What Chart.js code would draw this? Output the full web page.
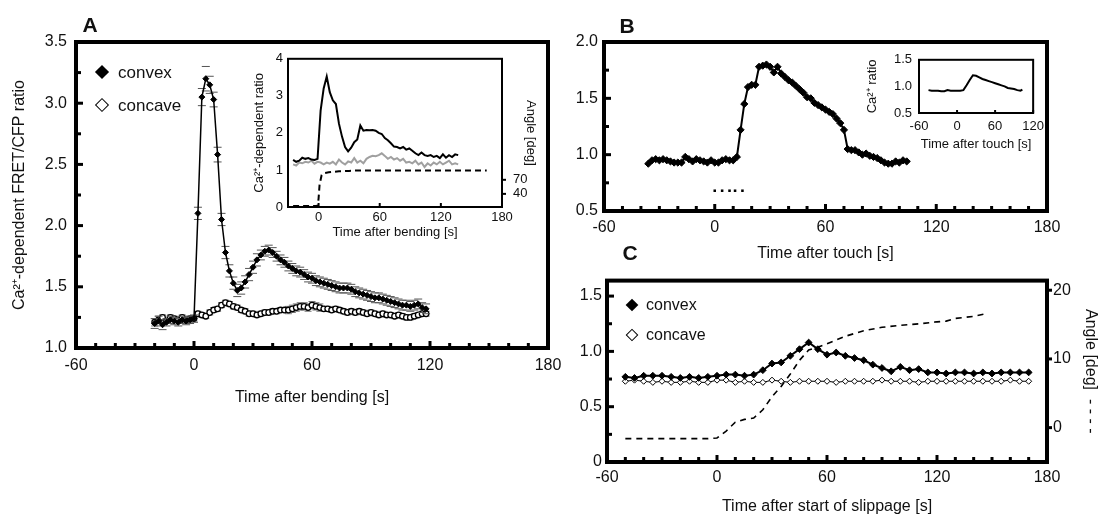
<!DOCTYPE html>
<html lang="en">
<head>
<meta charset="UTF-8">
<title>Ca2+ FRET ratio - bending, touch, slippage</title>
<style>
    body { margin: 0; background: #fff; }
    #wrap { position: relative; width: 1102px; height: 516px; background: #fff; overflow: hidden; font-family: 'Liberation Sans', Arial, sans-serif; color: #111; }
    canvas { position: absolute; }
    .dia { position: absolute; box-sizing: border-box; background: #000; transform: translate(-50%, -50%) rotate(45deg); }
    .dia.open { background: #fff; border: 1.6px solid #000; }
    .lab { position: absolute; line-height: 1; transform: translateY(-50%); white-space: nowrap; }
    .letter { position: absolute; font-weight: bold; font-size: 21px; line-height: 1; transform: translate(-50%, -50%); }
</style>
</head>
<body>
<div id="wrap">
    <canvas id="chartA" width="580" height="420" style="left:0;top:0"></canvas>
    <canvas id="chartAi" width="310" height="205" style="left:240px;top:40px"></canvas>
    <canvas id="chartB" width="542" height="270" style="left:560px;top:0"></canvas>
    <canvas id="chartBi" width="190" height="110" style="left:860px;top:45px"></canvas>
    <canvas id="chartC" width="542" height="251" style="left:560px;top:265px"></canvas>

    <div class="letter" style="left:90px;top:24px">A</div>
    <div class="letter" style="left:627px;top:25px">B</div>
    <div class="letter" style="left:630px;top:252px">C</div>

    <!-- legends -->
    <div class="dia" style="left:102px;top:72px;width:10px;height:10px"></div>
    <div class="lab" style="left:118px;top:72px;font-size:17px">convex</div>
    <div class="dia open" style="left:102px;top:105px;width:10px;height:10px"></div>
    <div class="lab" style="left:118px;top:105px;font-size:17px">concave</div>

    <div class="dia" style="left:632px;top:305px;width:9px;height:9px"></div>
    <div class="lab" style="left:646px;top:305px;font-size:16px">convex</div>
    <div class="dia open" style="left:632px;top:335px;width:9px;height:9px"></div>
    <div class="lab" style="left:646px;top:335px;font-size:16px">concave</div>
</div>

<script src="https://cdn.jsdelivr.net/npm/chart.js"></script>
<script type="text/javascript">
        // ---- A: bending, main plot ----
        const tA = [-20,-18,-16,-14,-12,-10,-8,-6,-4,-2,0,2,4,6,8,10,12,14,16,18,20,22,24,26,28,30,32,34,36,38,
                    40,42,44,46,48,50,52,54,56,58,60,62,64,66,68,70,72,74,76,78,80,82,84,86,88,90,92,94,96,98,
                    100,102,104,106,108,110,112,114,116,118];
        const convexA = [1.20,1.22,1.19,1.21,1.23,1.22,1.21,1.23,1.22,1.23,
                         1.24,2.10,3.05,3.20,3.15,3.03,2.58,2.05,1.78,1.63,
                         1.53,1.47,1.49,1.54,1.60,1.66,1.72,1.76,1.79,1.80,
                         1.78,1.75,1.72,1.70,1.67,1.65,1.63,1.62,1.60,1.58,
                         1.57,1.55,1.54,1.53,1.52,1.51,1.50,1.49,1.49,1.49,
                         1.48,1.46,1.45,1.44,1.43,1.42,1.41,1.41,1.40,1.39,
                         1.38,1.37,1.36,1.35,1.35,1.34,1.35,1.36,1.33,1.32];
        const convexErrA = [0.04,0.04,0.04,0.03,0.03,0.03,0.03,0.03,0.03,0.03,
                            0.03,0.05,0.07,0.10,0.07,0.06,0.06,0.05,0.05,0.05,
                            0.05,0.05,0.05,0.05,0.05,0.05,0.05,0.04,0.04,0.04,
                            0.04,0.04,0.04,0.04,0.04,0.04,0.04,0.04,0.04,0.04,
                            0.04,0.04,0.04,0.04,0.04,0.04,0.04,0.04,0.04,0.04,
                            0.04,0.04,0.04,0.04,0.04,0.04,0.04,0.04,0.04,0.04,
                            0.04,0.04,0.04,0.04,0.04,0.04,0.04,0.04,0.04,0.04];
        const concaveA = [1.21,1.23,1.25,1.22,1.25,1.24,1.23,1.25,1.23,1.24,
                          1.24,1.28,1.27,1.26,1.29,1.31,1.32,1.35,1.37,1.36,
                          1.34,1.33,1.31,1.30,1.28,1.28,1.27,1.28,1.29,1.29,
                          1.30,1.30,1.31,1.31,1.31,1.32,1.33,1.34,1.34,1.33,
                          1.35,1.34,1.33,1.32,1.32,1.31,1.32,1.31,1.30,1.29,
                          1.30,1.29,1.30,1.29,1.28,1.29,1.28,1.27,1.28,1.27,
                          1.27,1.26,1.27,1.26,1.25,1.25,1.26,1.27,1.28,1.28];
        const concaveErrA = [0.03,0.03,0.02,0.02,0.02,0.02,0.02,0.02,0.02,0.02,
                             0.02,0.02,0.02,0.02,0.02,0.02,0.02,0.02,0.02,0.02,
                             0.02,0.02,0.02,0.02,0.02,0.02,0.02,0.02,0.02,0.02,
                             0.02,0.02,0.02,0.02,0.03,0.03,0.03,0.03,0.03,0.03,
                             0.03,0.03,0.03,0.02,0.02,0.02,0.02,0.02,0.02,0.02,
                             0.02,0.02,0.02,0.02,0.02,0.02,0.02,0.02,0.02,0.02,
                             0.02,0.02,0.02,0.02,0.02,0.02,0.02,0.02,0.02,0.02];

        // ---- A inset: single cell ----
        const tAi = [-25,-22,-19,-16,-13,-10,-7,-4,-1,2,5,8,11,14,17,20,23,26,29,32,35,38,41,44,47,50,53,56,59,
                     62,65,68,71,74,77,80,83,86,89,92,95,98,101,104,107,110,113,116,119,122,125,128,131,134,137];
        const blackAi = [1.27,1.22,1.25,1.33,1.30,1.32,1.28,1.27,1.30,2.60,3.20,3.52,3.10,2.88,2.78,2.25,1.90,1.62,1.50,
                         1.60,1.75,1.82,2.20,2.06,2.08,2.07,2.08,2.06,2.00,1.97,1.86,1.80,1.72,1.63,1.62,1.58,1.62,
                         1.55,1.58,1.52,1.45,1.40,1.47,1.40,1.38,1.40,1.35,1.38,1.32,1.42,1.33,1.40,1.35,1.42,1.40];
        const greyAi = [1.15,1.12,1.20,1.18,1.22,1.20,1.25,1.17,1.22,1.20,1.15,1.20,1.17,1.22,1.15,1.28,1.20,1.15,1.23,
                        1.20,1.32,1.20,1.25,1.18,1.30,1.35,1.38,1.37,1.40,1.45,1.38,1.30,1.35,1.28,1.32,1.25,1.30,
                        1.20,1.22,1.18,1.25,1.15,1.20,1.08,1.18,1.12,1.20,1.15,1.22,1.15,1.20,1.25,1.15,1.18,1.15];
        const tAngAi = [-25,-1,0,1,3,5,10,20,30,40,60,100,165];
        const angAi = [14,14,30,60,80,84,86,88,89,90,90,90,90];

        // ---- B: touch ----
        const tB = [-36,-34,-32,-30,-28,-26,-24,-22,-20,-18,-16,-14,-12,-10,-8,-6,-4,-2,0,2,4,6,8,10,12,14,16,18,20,
                    22,24,26,28,30,32,34,36,38,40,42,44,46,48,50,52,54,56,58,60,62,64,66,68,70,72,74,76,78,80,
                    82,84,86,88,90,92,94,96,98,100,102,104];
        const ratioB = [0.92,0.95,0.96,0.95,0.96,0.95,0.94,0.93,0.93,0.93,0.98,0.96,0.94,0.96,0.95,0.94,0.93,0.95,0.93,
                        0.93,0.95,0.96,0.95,0.95,0.98,1.22,1.45,1.60,1.62,1.62,1.78,1.79,1.80,1.78,1.73,1.78,1.72,
                        1.69,1.66,1.64,1.61,1.58,1.55,1.51,1.50,1.46,1.44,1.42,1.40,1.38,1.36,1.32,1.28,1.22,1.05,
                        1.04,1.04,1.02,1.00,1.01,0.99,0.98,0.97,0.95,0.93,0.92,0.92,0.94,0.93,0.95,0.94];
        const touchT = [0,4,8,11,15];
        const touchV = [0.68,0.68,0.68,0.68,0.68];
        const tBi = [-45,-40,-35,-30,-25,-20,-15,-10,-5,0,5,10,15,20,25,30,35,40,45,50,55,60,65,70,75,80,85,90,95,100,103];
        const ratioBi = [0.93,0.92,0.92,0.92,0.91,0.91,0.93,0.92,0.92,0.92,0.92,0.93,1.02,1.12,1.21,1.20,1.17,1.14,1.12,
                         1.10,1.08,1.06,1.04,1.02,1.00,0.97,0.96,0.95,0.93,0.92,0.94];

        // ---- C: slippage ----
        const tC = [-50,-45,-40,-35,-30,-25,-20,-15,-10,-5,0,5,10,15,20,25,30,35,40,45,50,55,60,65,70,75,80,85,90,95,
                    100,105,110,115,120,125,130,135,140,145,150,155,160,165,170];
        const convexC = [0.77,0.76,0.78,0.78,0.78,0.77,0.76,0.77,0.76,0.77,0.78,0.79,0.79,0.78,0.79,0.83,0.89,0.90,0.96,1.02,
                         1.08,1.02,0.97,0.99,0.96,0.94,0.92,0.88,0.85,0.82,0.86,0.83,0.84,0.81,0.81,0.80,0.81,0.81,0.80,0.81,
                         0.80,0.81,0.81,0.81,0.81];
        const concaveC = [0.73,0.74,0.73,0.72,0.73,0.72,0.72,0.73,0.72,0.72,0.74,0.74,0.72,0.73,0.72,0.72,0.74,0.73,0.72,0.73,
                          0.73,0.73,0.73,0.72,0.73,0.73,0.73,0.73,0.74,0.73,0.73,0.73,0.72,0.73,0.73,0.73,0.73,0.73,0.73,0.73,
                          0.73,0.73,0.74,0.73,0.73];
        const tAngC = [-50,-5,0,5,10,15,20,25,30,35,40,45,50,55,60,70,80,90,100,110,120,125,130,140,147];
        const angC = [-1.6,-1.6,-1.5,-0.5,0.8,1.2,1.4,2.6,4.5,6.0,7.8,9.8,11.3,11.7,12.2,13.3,14.1,14.6,14.9,15.1,15.4,15.5,15.9,16.2,16.6];

        // frame round the plot area + little inward tick marks
        const frameTicks = {
            id: 'frameTicks',
            afterDatasetsDraw(chart, args, opts) {
                const a = chart.chartArea;
                const ctx = chart.ctx;
                ctx.save();
                ctx.strokeStyle = '#000';
                (opts.marks || []).forEach(function (m) {
                    const s = chart.scales[m.axis];
                    let vals = [];
                    if (m.useTicks) {
                        vals = s.ticks.map(function (t) { return t.value; });
                    } else {
                        const first = Math.ceil(s.min / m.step - 1e-9);
                        const last = Math.floor(s.max / m.step + 1e-9);
                        for (let i = first; i <= last; i++) vals.push(i * m.step);
                    }
                    vals.forEach(function (v) {
                        const k = m.major ? v / m.major : 0;
                        const isMajor = Math.abs(k - Math.round(k)) < 1e-6;
                        const len = isMajor ? m.len : m.minorLen;
                        if (!len) return;
                        ctx.lineWidth = isMajor ? m.lw : m.minorLw;
                        const p = s.getPixelForValue(v);
                        ctx.beginPath();
                        if (s.isHorizontal()) {
                            ctx.moveTo(p, a.bottom); ctx.lineTo(p, a.bottom - len);
                        } else if (s.position === 'left') {
                            ctx.moveTo(a.left, p); ctx.lineTo(a.left + len, p);
                        } else {
                            ctx.moveTo(a.right, p); ctx.lineTo(a.right + len, p);
                        }
                        ctx.stroke();
                    });
                });
                ctx.lineWidth = opts.width;
                ctx.strokeRect(a.left, a.top, a.right - a.left, a.bottom - a.top);
                ctx.restore();
            }
        };

        Chart.defaults.font.family = "'Liberation Sans', Arial, sans-serif";
        Chart.defaults.color = '#111';
        Chart.defaults.animation = false;
        Chart.defaults.plugins.legend.display = false;
        Chart.defaults.plugins.tooltip.enabled = false;
        Chart.register(frameTicks);

        function pts(xs, ys) { return xs.map(function (x, i) { return {x: x, y: ys[i]}; }); }
        function fixW(w) { return function (s) { s.width = w; }; }
        function fixH(h) { return function (s) { s.height = h; }; }
        function setTicks(vals) { return function (s) { s.ticks = vals.map(function (v) { return {value: v}; }); }; }
        function axis(extra) {
            return Object.assign({type: 'linear', grid: {display: false, drawTicks: false}, border: {display: false}}, extra);
        }
        function oneDec(v) { return v === 0 ? '0' : v.toFixed(1); }

        // A main
        new Chart(document.getElementById('chartA'), {
            type: 'scatter',
            data: {
                datasets: [
                    {data: pts(tA, convexA), showLine: true, borderColor: '#000', backgroundColor: '#000',
                        borderWidth: 1.5, pointStyle: 'rectRot', pointRadius: 3, pointBorderWidth: 1},
                    {data: pts(tA, convexA.map(function (v, i) { return v + convexErrA[i]; })), pointStyle: 'line',
                        pointRadius: 4, borderColor: '#555', borderWidth: 1},
                    {data: pts(tA, convexA.map(function (v, i) { return v - convexErrA[i]; })), pointStyle: 'line',
                        pointRadius: 4, borderColor: '#555', borderWidth: 1},
                    {data: pts(tA, concaveA), showLine: true, borderColor: '#000', backgroundColor: '#fff',
                        borderWidth: 1, pointStyle: 'circle', pointRadius: 2.8, pointBorderWidth: 1.3},
                    {data: pts(tA, concaveA.map(function (v, i) { return v + concaveErrA[i]; })), pointStyle: 'line',
                        pointRadius: 3.5, borderColor: '#777', borderWidth: 1},
                    {data: pts(tA, concaveA.map(function (v, i) { return v - concaveErrA[i]; })), pointStyle: 'line',
                        pointRadius: 3.5, borderColor: '#777', borderWidth: 1}
                ]
            },
            options: {
                responsive: false,
                layout: {padding: {top: 42, right: 32, left: 0, bottom: 0}},
                scales: {
                    x: axis({min: -60, max: 180, afterFit: fixH(72),
                        ticks: {stepSize: 60, padding: 8, font: {size: 16}},
                        title: {display: true, text: 'Time after bending [s]', font: {size: 16}, padding: {top: 4, bottom: 13}}}),
                    y: axis({min: 1, max: 3.5, afterFit: fixW(76),
                        ticks: {stepSize: 0.5, padding: 9, font: {size: 16}, callback: oneDec},
                        title: {display: true, text: 'Ca²⁺-dependent FRET/CFP ratio', font: {size: 16}, padding: {top: 10, bottom: 4}}})
                },
                plugins: {frameTicks: {width: 4, marks: [
                    {axis: 'x', step: 10, major: 60, len: 7, lw: 3, minorLen: 5, minorLw: 3},
                    {axis: 'y', step: 0.25, major: 0.5, len: 7, lw: 3, minorLen: 5, minorLw: 3}
                ]}}
            }
        });

        // A inset
        new Chart(document.getElementById('chartAi'), {
            type: 'scatter',
            data: {
                datasets: [
                    {data: pts(tAi, blackAi), showLine: true, borderColor: '#000', borderWidth: 2, pointRadius: 0},
                    {data: pts(tAi, greyAi), showLine: true, borderColor: '#a0a0a0', borderWidth: 2, pointRadius: 0},
                    {data: pts(tAngAi, angAi), showLine: true, borderColor: '#000', borderWidth: 2, borderDash: [6, 4],
                        pointRadius: 0, yAxisID: 'y2'}
                ]
            },
            options: {
                responsive: false,
                layout: {padding: {top: 9, right: 0, left: 0, bottom: 0}},
                scales: {
                    x: axis({min: -30, max: 180, afterFit: fixH(38), afterBuildTicks: setTicks([0, 60, 120, 180]),
                        ticks: {padding: 3, font: {size: 13}},
                        title: {display: true, text: 'Time after bending [s]', font: {size: 13}, padding: {top: 2, bottom: 5}}}),
                    y: axis({min: 0, max: 4, afterFit: fixW(48),
                        ticks: {stepSize: 1, padding: 5, font: {size: 13}},
                        title: {display: true, text: 'Ca²⁺-dependent ratio', font: {size: 13}, padding: {top: 12, bottom: 2}}}),
                    y2: axis({position: 'right', min: 12, max: 328, afterFit: fixW(48), afterBuildTicks: setTicks([40, 70]),
                        ticks: {padding: 11, font: {size: 13}},
                        title: {display: true, text: 'Angle [deg]', font: {size: 13}, padding: {top: 12, bottom: 2}}})
                },
                plugins: {frameTicks: {width: 2, marks: [
                    {axis: 'x', useTicks: true, len: 4, lw: 2, minorLen: 0, minorLw: 0},
                    {axis: 'y2', useTicks: true, len: 4, lw: 2, minorLen: 0, minorLw: 0}
                ]}}
            }
        });

        // B main
        new Chart(document.getElementById('chartB'), {
            type: 'scatter',
            data: {
                datasets: [
                    {data: pts(tB, ratioB), showLine: true, borderColor: '#000', backgroundColor: '#000',
                        borderWidth: 2, pointStyle: 'rectRot', pointRadius: 3.6, pointBorderWidth: 1},
                    {data: pts(touchT, touchV), pointStyle: 'rect', pointRadius: 1.8, borderColor: '#000',
                        backgroundColor: '#000', borderWidth: 0}
                ]
            },
            options: {
                responsive: false,
                layout: {padding: {top: 42, right: 55, left: 0, bottom: 0}},
                scales: {
                    x: axis({min: -60, max: 180, afterFit: fixH(59),
                        ticks: {stepSize: 60, padding: 7, font: {size: 16}},
                        title: {display: true, text: 'Time after touch [s]', font: {size: 16}, padding: {top: 4, bottom: 7}}}),
                    y: axis({min: 0.5, max: 2, afterFit: fixW(44),
                        ticks: {stepSize: 0.5, padding: 6, font: {size: 16}, callback: oneDec}})
                },
                plugins: {frameTicks: {width: 4, marks: [
                    {axis: 'x', step: 10, major: 60, len: 7, lw: 3, minorLen: 5, minorLw: 3},
                    {axis: 'y', step: 0.25, major: 0.5, len: 7, lw: 3, minorLen: 5, minorLw: 3}
                ]}}
            }
        });

        // B inset
        new Chart(document.getElementById('chartBi'), {
            type: 'scatter',
            data: {
                datasets: [
                    {data: pts(tBi, ratioBi), showLine: true, borderColor: '#000', borderWidth: 2, pointRadius: 0}
                ]
            },
            options: {
                responsive: false,
                layout: {padding: {top: 12, right: 16, left: 0, bottom: 0}},
                scales: {
                    x: axis({min: -60, max: 120, afterFit: fixH(42),
                        ticks: {stepSize: 60, padding: 6, font: {size: 13}},
                        title: {display: true, text: 'Time after touch [s]', font: {size: 13}, padding: {top: 2, bottom: 3}}}),
                    y: axis({min: 0.5, max: 1.5, afterFit: fixW(59),
                        ticks: {stepSize: 0.5, padding: 7, font: {size: 13}, callback: oneDec},
                        title: {display: true, text: 'Ca²⁺ ratio', font: {size: 13}, padding: {top: 5, bottom: 2}}})
                },
                plugins: {frameTicks: {width: 2, marks: [
                    {axis: 'x', step: 60, major: 60, len: 3, lw: 2, minorLen: 0, minorLw: 0}
                ]}}
            }
        });

        // C main (dual axis)
        new Chart(document.getElementById('chartC'), {
            type: 'scatter',
            data: {
                datasets: [
                    {data: pts(tC, convexC), showLine: true, borderColor: '#000', backgroundColor: '#000',
                        borderWidth: 2, pointStyle: 'rectRot', pointRadius: 3.4, pointBorderWidth: 1},
                    {data: pts(tC, concaveC), showLine: true, borderColor: '#000', backgroundColor: '#fff',
                        borderWidth: 1, pointStyle: 'rectRot', pointRadius: 3, pointBorderWidth: 1},
                    {data: pts(tAngC, angC), showLine: true, borderColor: '#000', borderWidth: 1.6, borderDash: [6, 5],
                        pointRadius: 0, yAxisID: 'y2'}
                ]
            },
            options: {
                responsive: false,
                layout: {padding: {top: 10, right: 0, left: 0, bottom: 0}},
                scales: {
                    x: axis({min: -60, max: 180, afterFit: fixH(54),
                        ticks: {stepSize: 60, padding: 6, font: {size: 16}},
                        title: {display: true, text: 'Time after start of slippage [s]', font: {size: 16}, padding: {top: 4, bottom: 0}}}),
                    y: axis({min: 0, max: 1.64, afterFit: fixW(47),
                        ticks: {stepSize: 0.5, includeBounds: false, padding: 5, font: {size: 16}, callback: oneDec}}),
                    y2: axis({position: 'right', min: -5, max: 21.4, afterFit: fixW(55), afterBuildTicks: setTicks([0, 10, 20]),
                        ticks: {padding: 6, font: {size: 16}},
                        title: {display: true, text: 'Angle [deg]  - - - -', font: {size: 16}, padding: {top: 2, bottom: 2}}})
                },
                plugins: {frameTicks: {width: 4, marks: [
                    {axis: 'x', step: 10, major: 60, len: 7, lw: 3, minorLen: 5, minorLw: 3},
                    {axis: 'y', step: 0.25, major: 0.5, len: 7, lw: 3, minorLen: 5, minorLw: 3},
                    {axis: 'y2', useTicks: true, len: 5, lw: 3, minorLen: 0, minorLw: 0}
                ]}}
            }
        });
</script>
</body>
</html>
